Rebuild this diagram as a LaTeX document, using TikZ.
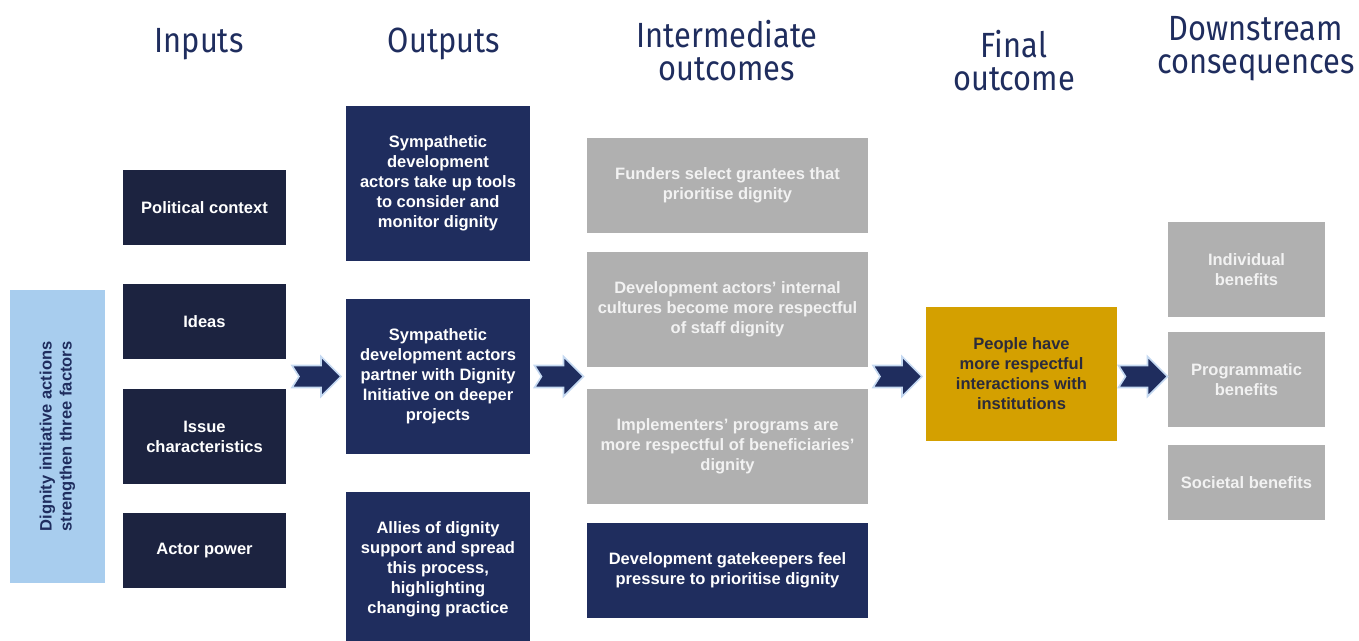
\documentclass[tikz,border=0pt]{standalone}
\usepackage{fontspec}
\setmainfont{Liberation Sans}
\newfontfamily\headfont[FakeStretch=0.88]{Fira Sans}
\usetikzlibrary{calc,positioning}
\definecolor{inknavy}{HTML}{1C2340}
\definecolor{outnavy}{HTML}{1F2D5E}
\definecolor{midgrey}{HTML}{B0B0B0}
\definecolor{palegrey}{HTML}{F2F2F2}
\definecolor{skyblue}{HTML}{A8CDEE}
\definecolor{goldbox}{HTML}{D4A000}
\definecolor{goldtext}{HTML}{2B2B3B}
\definecolor{arrowrim}{HTML}{C5D9F1}
\newcommand\ColIn{204.5}
\newcommand\ColOut{438}
\newcommand\ColMid{727.5}
\newcommand\ColDown{1246.5}
\tikzset{
  box/.style={
    shape = rectangle,
    inner sep = 0pt,
    align = center,
    font = \bfseries\fontsize{16.5}{20}\selectfont
  },
  inputbox/.style={
    box,
    fill = inknavy,
    text = white,
    minimum width = 163,
    minimum height = 75
  },
  outputbox/.style={
    box,
    fill = outnavy,
    text = white,
    minimum width = 184,
    minimum height = 155
  },
  greybox/.style={
    box,
    fill = midgrey,
    text = palegrey,
    minimum width = 281,
    minimum height = 95
  },
  benefit/.style={
    greybox,
    minimum width = 157
  },
  heading/.style={
    align = center,
    text = outnavy,
    inner sep = 0pt,
    font = \headfont\fontsize{35}{33}\selectfont
  },
  flow/.pic={
    \draw[fill = outnavy, draw = arrowrim, line width = 1.6pt, line join = miter]
      (-24,-11) -- (5,-11) -- (5,-20) -- (25,0) -- (5,20) -- (5,11)
      -- (-24,11) -- (-17,0) -- cycle;
  }
}
\begin{document}
\begin{tikzpicture}[x=1pt, y=-1pt]
    \useasboundingbox (0,0) rectangle (1359,640);

    % column headings
    \node[heading] (hIn) at (199,44) {Inputs};
    \node[heading] (hOut) at (444,44) {Outputs};
    \node[heading] (hMid) at (727,51) {Intermediate\\outcomes};
    \node[heading] (hFin) at (1014,61) {Final\\outcome};
    \node[heading] (hDown) at (1256,49) {Downstream\\consequences};

    % side bar
    \node[box, rotate = 90, fill = skyblue, text = outnavy,
          minimum width = 293, minimum height = 95] (dignity) at (57.5,436.5)
          {Dignity initiative actions\\strengthen three factors};

    % inputs
    \node[inputbox] (political) at (\ColIn,207.5) {Political context};
    \node[inputbox] (ideas) at (\ColIn,321.5) {Ideas};
    \node[inputbox, minimum height = 95] (issue) at (\ColIn,436.5) {Issue\\characteristics};
    \node[inputbox] (actor) at (\ColIn,550.5) {Actor power};

    % outputs
    \node[outputbox] (tools) at (\ColOut,183.5)
          {Sympathetic\\development\\actors take up tools\\to consider and\\monitor dignity};
    \node[outputbox] (partner) at (\ColOut,376.5)
          {Sympathetic\\development actors\\partner with Dignity\\Initiative on deeper\\projects};
    \node[outputbox] (allies) at (\ColOut,569)
          {Allies of dignity\\support and spread\\this process,\\highlighting\\changing practice};

    % intermediate outcomes
    \node[greybox] (funders) at (\ColMid,185.5)
          {Funders select grantees that\\prioritise dignity};
    \node[greybox, minimum height = 115] (cultures) at (\ColMid,309.5)
          {Development actors' internal\\cultures become more respectful\\of staff dignity};
    \node[greybox, minimum height = 115] (programs) at (\ColMid,446.5)
          {Implementers' programs are\\more respectful of beneficiaries'\\dignity};
    \node[greybox, fill = outnavy, text = white] (gatekeepers) at (\ColMid,570.5)
          {Development gatekeepers feel\\pressure to prioritise dignity};

    % final outcome
    \node[box, fill = goldbox, text = goldtext, minimum width = 191,
          minimum height = 134] (people) at (1021.5,374)
          {People have\\more respectful\\interactions with\\institutions};

    % downstream consequences
    \node[benefit] (individual) at (\ColDown,269.5) {Individual\\benefits};
    \node[benefit] (programmatic) at (\ColDown,379.5) {Programmatic\\benefits};
    \node[benefit, minimum height = 75] (societal) at (\ColDown,482.5) {Societal benefits};

    % block arrows between the columns
    \pic at ($(issue.east |- partner)!0.5!(partner.west)$) {flow};
    \pic at ($(partner.east)!0.5!(cultures.west |- partner)$) {flow};
    \pic at ($(programs.east |- partner)!0.5!(people.west |- partner)$) {flow};
    \pic at ($(people.east |- partner)!0.5!(programmatic.west |- partner)$) {flow};
\end{tikzpicture}
\end{document}
